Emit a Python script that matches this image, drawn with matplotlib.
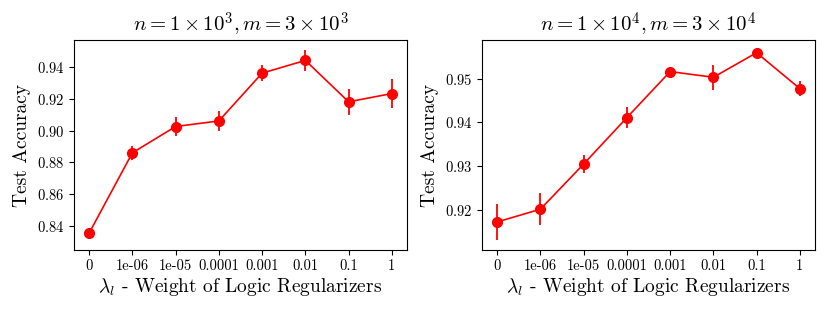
import numpy as np
import matplotlib
matplotlib.use("Agg")
import matplotlib.pyplot as plt

plt.rcParams["font.family"] = "serif"
plt.rcParams["font.serif"] = ["cmr10"]
plt.rcParams["mathtext.fontset"] = "cm"
plt.rcParams["axes.formatter.use_mathtext"] = True

LAMBDAS = ["0", "1e-06", "1e-05", "0.0001", "0.001", "0.01", "0.1", "1"]

ACC_SMALL = [0.8356, 0.8860, 0.9025, 0.9060, 0.9360, 0.9440, 0.9180, 0.9232]
ERR_SMALL = [0.0030, 0.0045, 0.0060, 0.0060, 0.0050, 0.0065, 0.0082, 0.0092]

ACC_LARGE = [0.9173, 0.9202, 0.9305, 0.9411, 0.9516, 0.9503, 0.9559, 0.9477]
ERR_LARGE = [0.0042, 0.0037, 0.0021, 0.0024, 0.0006, 0.0029, 0.0005, 0.0017]

TITLES = [r"$n = 1 \times 10^3, m = 3 \times 10^3$",
          r"$n = 1 \times 10^4, m = 3 \times 10^4$"]

fig = plt.figure(figsize=(8.3, 3.12), dpi=100)
ax1 = fig.add_axes([74 / 830, 62 / 312, 333 / 830, 210 / 312])
ax2 = fig.add_axes([482 / 830, 62 / 312, 333 / 830, 210 / 312])

for ax, acc, err, title in [(ax1, ACC_SMALL, ERR_SMALL, TITLES[0]),
                            (ax2, ACC_LARGE, ERR_LARGE, TITLES[1])]:
    x = np.arange(len(LAMBDAS))
    ax.errorbar(x, acc, yerr=err, color="red", marker="o", markersize=7,
                lw=1.2, elinewidth=1.3)
    ax.set_xticks(x)
    ax.set_xticklabels(LAMBDAS)
    ax.tick_params(axis="x", labelsize=10.5)
    ax.tick_params(axis="y", labelsize=10.5)
    ax.set_ylabel("Test Accuracy", fontsize=14)
    ax.set_xlabel(r"$\lambda_l$ - Weight of Logic Regularizers", fontsize=14, labelpad=2)
    ax.set_title(title, fontsize=15)

ax1.set_yticks([0.84, 0.86, 0.88, 0.90, 0.92, 0.94])
ax1.set_ylim(0.825, 0.9568)
ax2.set_yticks([0.92, 0.93, 0.94, 0.95])
ax2.set_ylim(0.9109, 0.9588)

fig.savefig("out.png", dpi=100)
